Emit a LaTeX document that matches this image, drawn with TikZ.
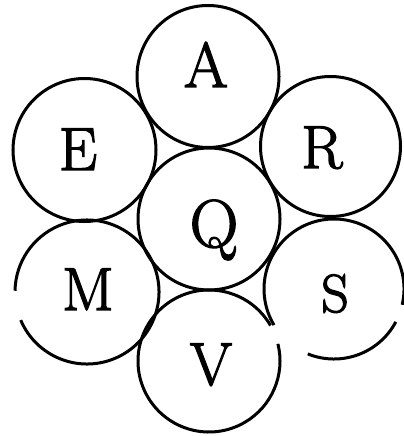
\documentclass[tikz,border=0pt]{standalone}
\newcommand{\heavyink}[1]{\special{pdf:literal direct 2 Tr 1.3 w}#1\special{pdf:literal direct 0 Tr}}
\begin{document}
\begin{tikzpicture}[x=1bp,y=-1bp,
  ring/.style={draw=black,line width=3bp},
  letter/.style={inner sep=0pt,outer sep=0pt,anchor=base,font=\fontsize{61}{61}\selectfont}]
\useasboundingbox (0,0) rectangle (403,436);
% circle centres
\coordinate (cA) at (208,76.5);
\coordinate (cQ) at (209,219);
\coordinate (cE) at (84.5,150);
\coordinate (cR) at (330.5,146.5);
\coordinate (cM) at (87,292);
\coordinate (cS) at (334,289);
\coordinate (cV) at (209,361);
% circles
\draw[ring] (cA) circle[radius=71bp];
\draw[ring] (cQ) circle[radius=71bp];
\draw[ring] (cE) circle[radius=71.5bp];
\draw[ring] (cR) circle[radius=70bp];
\draw[ring] (cM) ++(203:72bp) arc[start angle=203,end angle=539,radius=72bp];
\draw[ring] (cS) ++(-13:70bp) arc[start angle=-13,end angle=211,radius=70bp];
\draw[ring] (cS) ++(248:70bp) arc[start angle=248,end angle=332,radius=70bp];
\draw[ring] (cV) ++(30:71bp) arc[start angle=30,end angle=374,radius=71bp];
% letters
\node[letter,font=\fontsize{64}{64}\selectfont] (A) at (206,87) {\heavyink{A}};
\node[letter] (E) at (78,170) {\heavyink{E}};
\node[letter] (R) at (322,168) {\heavyink{R}};
\node[letter,font=\fontsize{68}{68}\selectfont] (Q) at (214,247) {\heavyink{Q}};
\node[letter] (M) at (88,310) {\heavyink{M}};
\node[letter,font=\fontsize{54}{54}\selectfont] (S) at (335,312) {\heavyink{S}};
\node[letter] (V) at (211,385) {\heavyink{V}};
\end{tikzpicture}
\end{document}
